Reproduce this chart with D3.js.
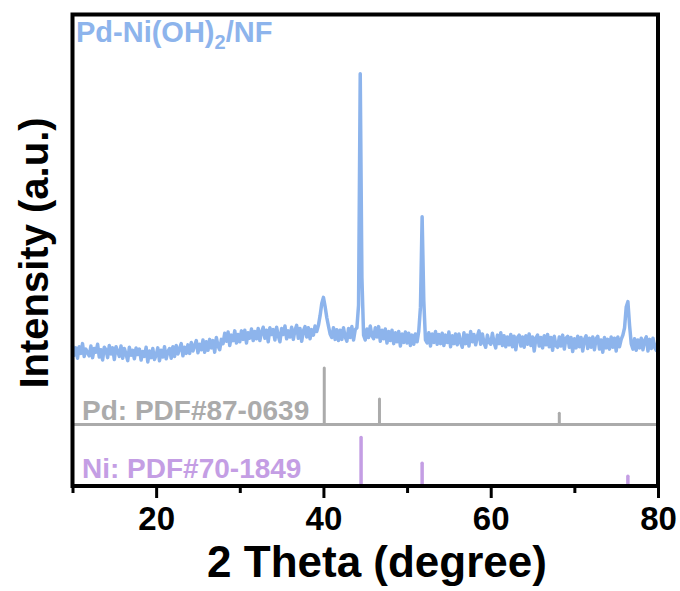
<!DOCTYPE html>
<html>
<head>
<meta charset="utf-8">
<script src="https://cdn.jsdelivr.net/npm/d3@7"></script>
<style>
body { margin: 0; background: #fff; }
text { font-family: "Liberation Sans", Arial, sans-serif; font-weight: bold; }
</style>
</head>
<body>
<script>
// XRD scan (step 0.2 deg from 10 deg)
var scanStart = 10, scanStep = 0.2;
var intensity = [
  112, 80, 104, 70, 108, 86, 118, 76, 100, 88,
  78, 110, 72, 102, 90, 116, 74, 98, 64, 106,
  98, 72, 112, 84, 104, 66, 108, 92, 76, 110,
  70, 102, 84, 62, 106, 80, 96, 68, 104, 82,
  100, 64, 92, 76, 106, 58, 94, 72, 102, 66,
  80, 104, 62, 96, 74, 108, 68, 92, 102, 70,
  108, 76, 112, 84, 102, 118, 78, 106, 86, 114,
  86, 122, 94, 112, 128, 88, 116, 98, 130, 90,
  124, 96, 132, 104, 128, 90, 138, 110, 98, 132,
  118, 152, 126, 156, 112, 146, 128, 160, 120, 148,
  124, 160, 132, 162, 120, 154, 136, 166, 128, 158,
  134, 168, 128, 156, 172, 136, 162, 124, 170, 148,
  164, 130, 172, 144, 124, 168, 148, 176, 134, 160,
  140, 172, 132, 162, 178, 136, 168, 126, 160, 174,
  140, 170, 134, 164, 146, 176, 158, 178, 210, 250,
  270, 240, 204, 176, 150, 138, 170, 132, 164, 128,
  162, 132, 170, 140, 126, 168, 138, 174, 130, 164,
  170, 245, 1005, 335, 146, 130, 166, 138, 176, 144,
  134, 170, 140, 174, 126, 162, 134, 166, 120, 158,
  128, 162, 118, 154, 124, 158, 110, 150, 122, 156,
  120, 152, 112, 146, 116, 150, 124, 160, 238, 535,
  258, 130, 120, 154, 110, 150, 122, 158, 116, 148,
  118, 152, 112, 146, 122, 156, 108, 144, 118, 150,
  114, 150, 122, 106, 154, 118, 146, 110, 158, 124,
  148, 114, 142, 160, 116, 150, 120, 106, 146, 122,
  116, 152, 122, 104, 146, 118, 154, 112, 144, 108,
  140, 114, 148, 108, 142, 98, 138, 146, 110, 140,
  106, 144, 116, 150, 112, 140, 94, 136, 146, 110,
  138, 104, 144, 114, 148, 108, 138, 96, 142, 112,
  106, 140, 110, 146, 100, 136, 142, 106, 138, 92,
  134, 104, 142, 108, 138, 94, 132, 144, 102, 136,
  106, 140, 98, 134, 142, 100, 130, 90, 138, 104,
  132, 100, 140, 106, 136, 94, 140, 108, 132, 146,
  170, 238, 256, 178, 118, 100, 134, 96, 130, 104,
  136, 98, 128, 140, 94, 132, 102, 136, 106, 96,
  128
];

// reference cards
var pdPos = [40.1, 46.7, 68.2];
var pdRel = [100, 45, 20];
var niPos = [44.5, 51.8, 76.4];
var niRel = [100, 47, 20];

var majorTicks = [20, 40, 60, 80];
var minorTicks = [10, 30, 50, 70];

var blue = "#8db4ec", grey = "#ababab", purple = "#c49ee4";

var svg = d3.select("body").append("svg")
    .attr("width", 680).attr("height", 591);

// plot box (window.top is read only, so no "top" here)
var boxL = 72.5, boxR = 658, boxT = 14.5, boxB = 486;

var x = d3.scaleLinear().domain([10, 80]).range([boxL, boxR]);
var y = d3.scaleLinear().domain([-350, 1200]).range([boxB, boxT]);
// stick panels
var pdBase = 424.5;
var yPd = d3.scaleLinear().domain([0, 100]).range([pdBase, 368]);
var yNi = d3.scaleLinear().domain([0, 100]).range([boxB, 437.5]);

var scan = intensity.map(function(v, i) { return [scanStart + i * scanStep, v]; });

/* the measured pattern */
var line = d3.line()
    .x(function(d) { return x(d[0]); })
    .y(function(d) { return y(d[1]); });

svg.append("path")
    .datum(scan)
    .attr("d", line)
    .attr("fill", "none")
    .attr("stroke", blue)
    .attr("stroke-width", 3.5)
    .attr("stroke-linejoin", "round");

// Pd card
svg.append("line")
    .attr("x1", boxL).attr("x2", boxR)
    .attr("y1", pdBase).attr("y2", pdBase)
    .attr("stroke", grey).attr("stroke-width", 3);

svg.selectAll(".pd")
    .data(pdPos)
    .enter().append("line")
    .attr("class", "pd")
    .attr("x1", function(d) { return x(d); })
    .attr("x2", function(d) { return x(d); })
    .attr("y1", pdBase)
    .attr("y2", function(d, i) { return yPd(pdRel[i]); })
    .attr("stroke", grey).attr("stroke-width", 3).attr("stroke-linecap", "round");

// Ni card
svg.selectAll(".ni")
    .data(niPos)
    .enter().append("line")
    .attr("class", "ni")
    .attr("x1", function(d) { return x(d); })
    .attr("x2", function(d) { return x(d); })
    .attr("y1", boxB)
    .attr("y2", function(d, i) { return yNi(niRel[i]); })
    .attr("stroke", purple).attr("stroke-width", 3.5).attr("stroke-linecap", "round");

// frame
svg.append("rect")
    .attr("x", boxL).attr("y", boxT)
    .attr("width", boxR - boxL).attr("height", boxB - boxT)
    .attr("fill", "none").attr("stroke", "black").attr("stroke-width", 4);

// bottom axis ticks
var axis = svg.append("g").attr("transform", "translate(0," + boxB + ")");
axis.call(d3.axisBottom(x).tickValues(majorTicks).tickSize(12).tickPadding(9).tickFormat(d3.format("d")));
axis.select(".domain").remove();
axis.selectAll(".tick line").attr("stroke", "black").attr("stroke-width", 3);
axis.selectAll(".tick text")
    .attr("font-size", 33)
    .attr("fill", "black")
    .style("font-family", "'Liberation Sans', Arial, sans-serif")
    .style("font-weight", "bold");

var minor = svg.append("g").attr("transform", "translate(0," + boxB + ")");
minor.call(d3.axisBottom(x).tickValues(minorTicks).tickSize(7).tickFormat(""));
minor.select(".domain").remove();
minor.selectAll(".tick line").attr("stroke", "black").attr("stroke-width", 3);

// labels
svg.append("text")
    .attr("x", 377).attr("y", 577)
    .attr("text-anchor", "middle")
    .attr("font-size", 44)
    .text("2 Theta (degree)");

svg.append("text")
    .attr("transform", "translate(48,253) rotate(-90)")
    .attr("text-anchor", "middle")
    .attr("font-size", 40)
    .text("Intensity (a.u.)");

var title = svg.append("text")
    .attr("x", 76).attr("y", 42)
    .attr("font-size", 29)
    .attr("fill", blue);
title.append("tspan").text("Pd-Ni(OH)");
title.append("tspan").attr("font-size", 20).attr("dy", 7).text("2");
title.append("tspan").attr("dy", -7).text("/NF");

svg.append("text")
    .attr("x", 82).attr("y", 420)
    .attr("font-size", 28)
    .attr("fill", grey)
    .text("Pd: PDF#87-0639");

svg.append("text")
    .attr("x", 82).attr("y", 478)
    .attr("font-size", 28)
    .attr("fill", purple)
    .text("Ni: PDF#70-1849");
</script>
</body>
</html>
